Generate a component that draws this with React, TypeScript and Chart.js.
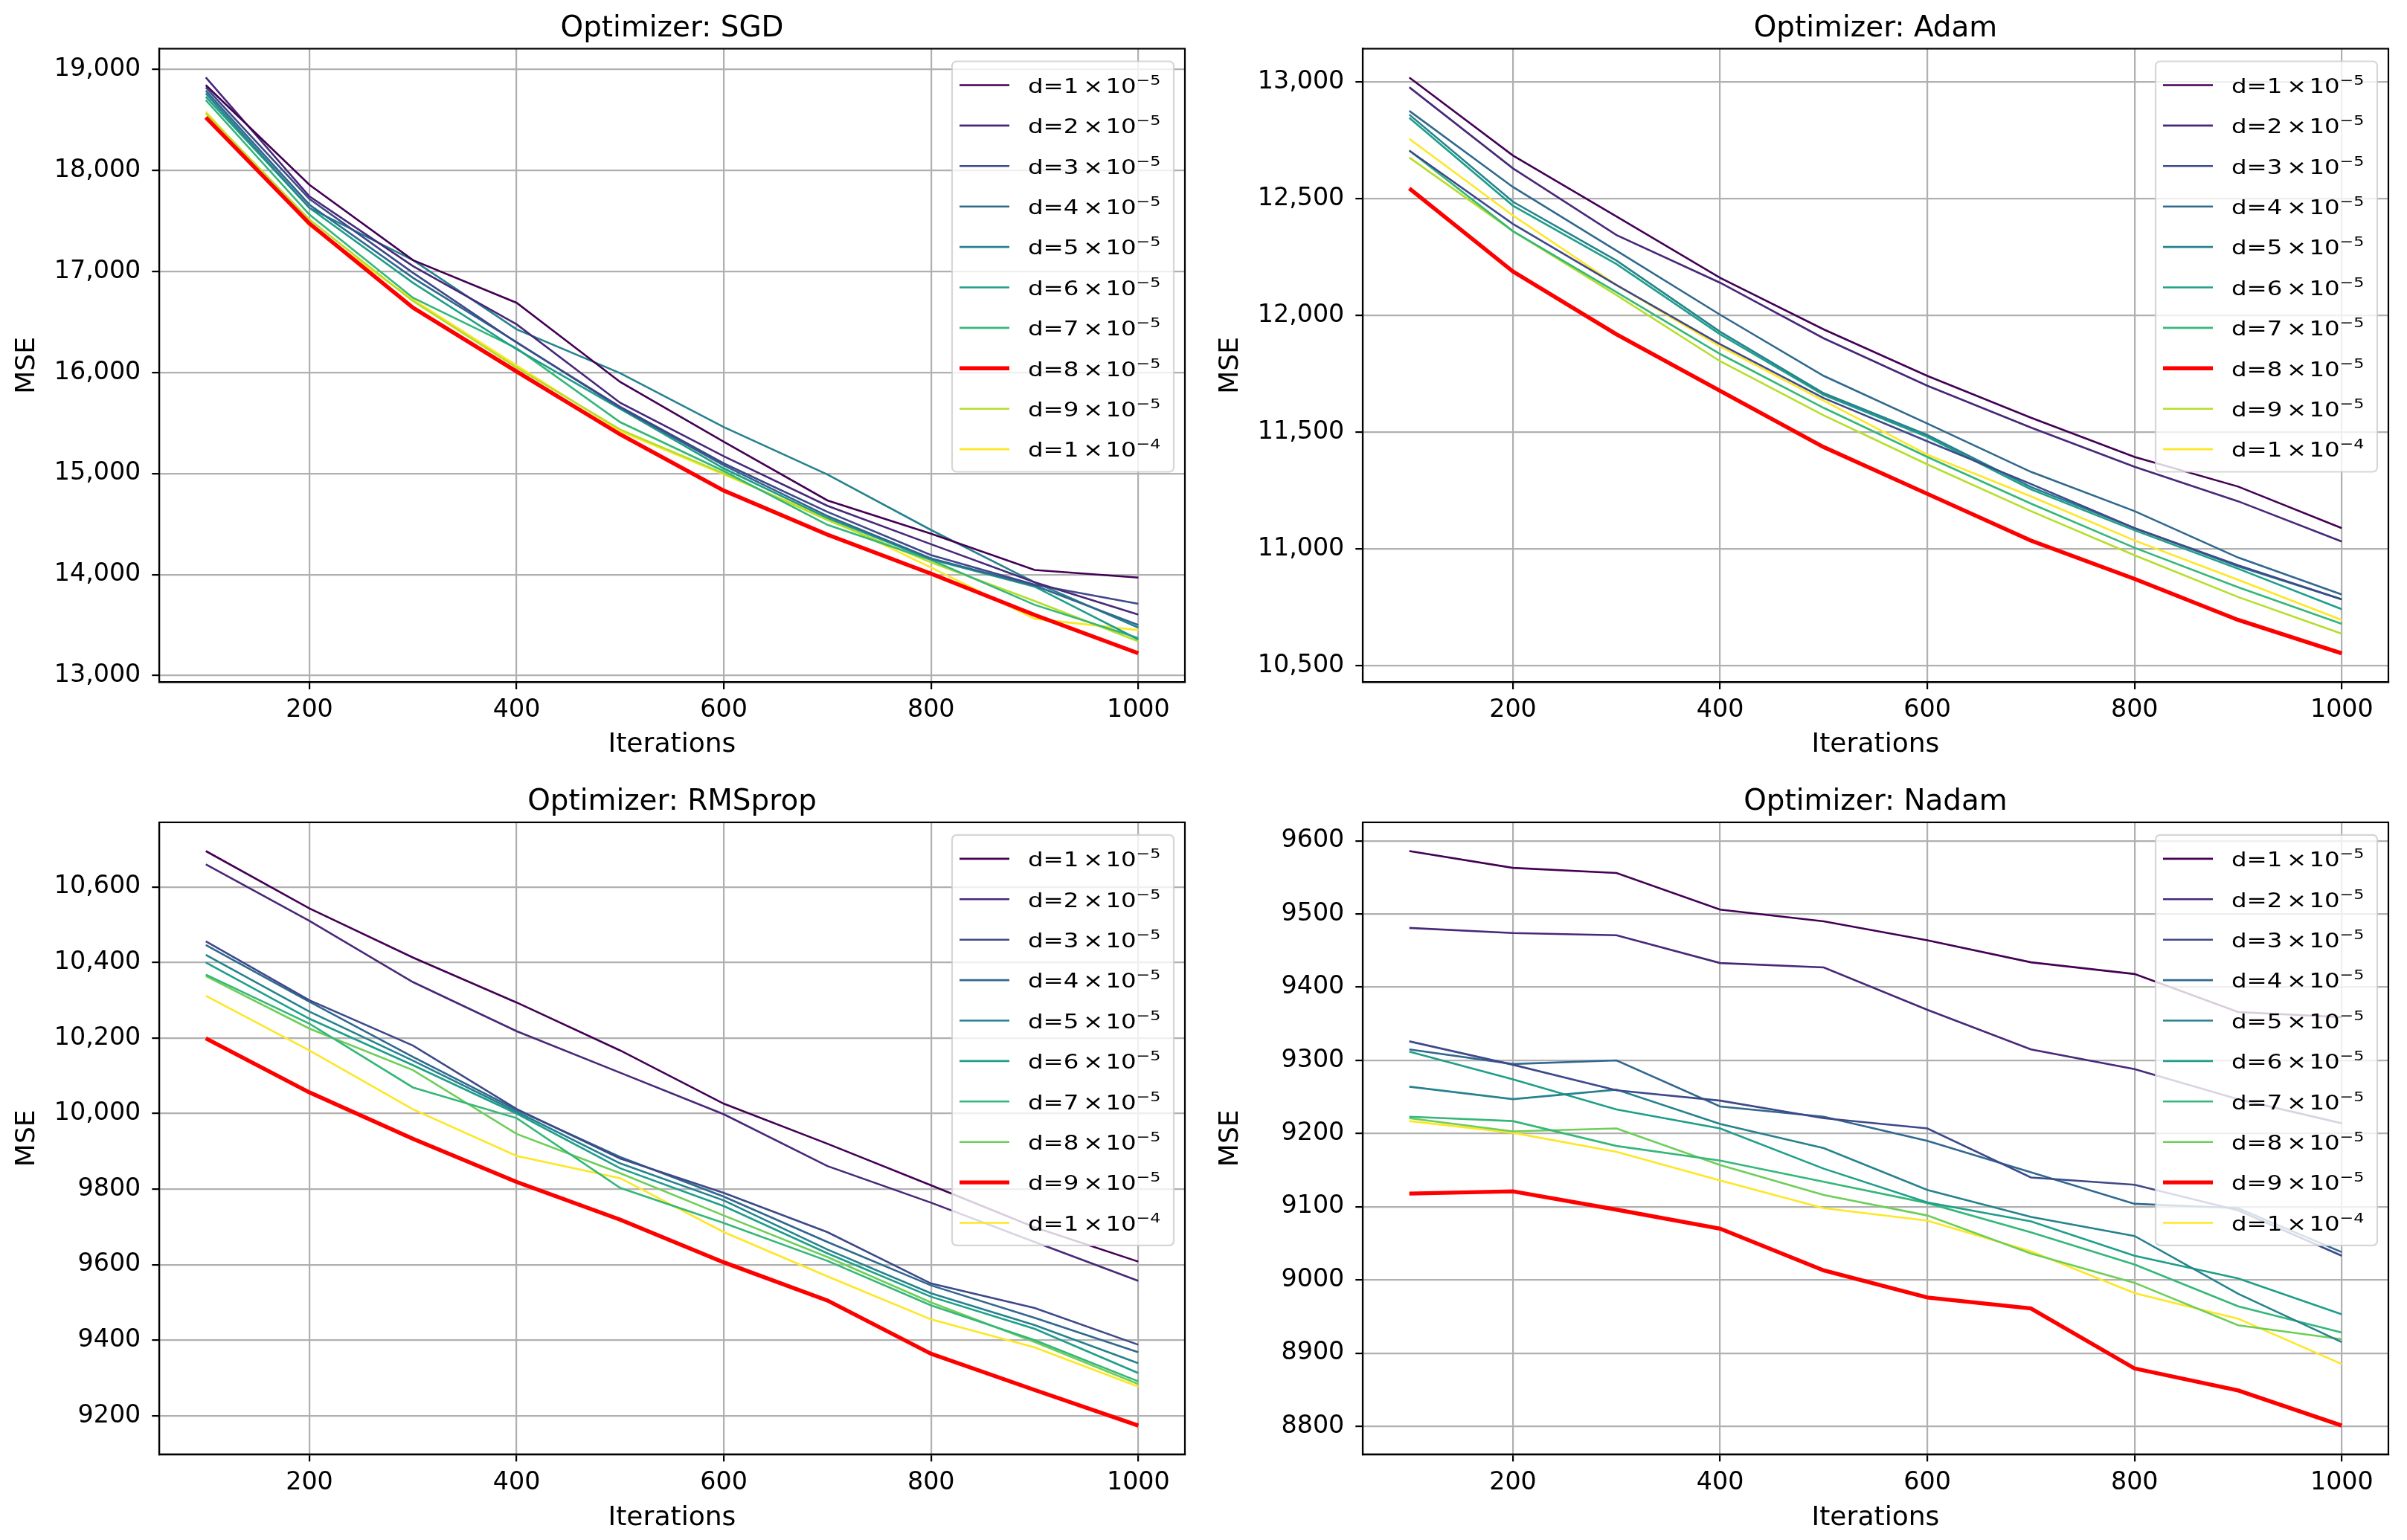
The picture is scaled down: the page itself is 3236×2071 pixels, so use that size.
import { useEffect, useRef } from 'react';
import { Chart, registerables } from 'chart.js';

Chart.register(...registerables);

const FONT = "'DejaVu Sans', 'Liberation Sans', sans-serif";

// ---------- data ----------
const ITERATIONS = [100, 200, 300, 400, 500, 600, 700, 800, 900, 1000];
const X_TICKS = [200, 400, 600, 800, 1000];
const X_TICK_LABELS = ['200', '400', '600', '800', '1000'];

const COEFS = ['1', '2', '3', '4', '5', '6', '7', '8', '9', '1'];
const EXPONENTS = ['−5', '−5', '−5', '−5', '−5', '−5', '−5', '−5', '−5', '−4'];
const SUPERSCRIPTS = ['⁻⁵', '⁻⁵', '⁻⁵', '⁻⁵', '⁻⁵', '⁻⁵', '⁻⁵', '⁻⁵', '⁻⁵', '⁻⁴'];

const VIRIDIS = [
  '#440154', '#482878', '#3e4989', '#31688e', '#26828e',
  '#1f9e89', '#35b779', '#6ece58', '#b5de2b', '#fde725',
];
const HIGHLIGHT = '#ff0000';

const SGD_SERIES = [
  [18845, 17859, 17112, 16690, 15906, 15315, 14734, 14404, 14045, 13970],
  [18921, 17744, 17053, 16477, 15700, 15170, 14680, 14300, 13923, 13604],
  [18822, 17718, 16987, 16296, 15660, 15100, 14620, 14193, 13900, 13710],
  [18790, 17662, 16938, 16300, 15650, 15080, 14580, 14160, 13890, 13500],
  [18763, 17630, 17112, 16428, 15993, 15460, 14990, 14441, 13923, 13475],
  [18730, 17630, 16888, 16230, 15640, 15050, 14560, 14150, 13880, 13357],
  [18697, 17564, 16740, 16240, 15508, 15024, 14492, 14144, 13700, 13371],
  [18526, 17475, 16641, 16010, 15387, 14831, 14395, 14008, 13600, 13220],
  [18566, 17515, 16707, 16049, 15436, 15000, 14540, 14120, 13738, 13339],
  [18582, 17456, 16722, 16070, 15420, 14990, 14560, 14070, 13562, 13450],
];
const SGD_TICKS = [13000, 14000, 15000, 16000, 17000, 18000, 19000];
const SGD_TICK_LABELS = ['13,000', '14,000', '15,000', '16,000', '17,000', '18,000', '19,000'];

const ADAM_SERIES = [
  [13019, 12685, 12424, 12161, 11940, 11741, 11562, 11394, 11267, 11089],
  [12977, 12630, 12344, 12140, 11902, 11699, 11520, 11352, 11204, 11032],
  [12706, 12392, 12130, 11877, 11646, 11461, 11278, 11089, 10930, 10784],
  [12876, 12550, 12277, 12003, 11741, 11537, 11330, 11162, 10963, 10805],
  [12860, 12487, 12235, 11930, 11667, 11488, 11265, 11089, 10925, 10784],
  [12846, 12470, 12220, 11919, 11660, 11480, 11255, 11080, 10915, 10742],
  [12706, 12361, 12100, 11835, 11604, 11394, 11194, 11005, 10836, 10679],
  [12544, 12188, 11919, 11677, 11436, 11236, 11036, 10872, 10696, 10553],
  [12676, 12361, 12087, 11804, 11572, 11362, 11162, 10973, 10794, 10637],
  [12756, 12428, 12130, 11867, 11635, 11404, 11225, 11036, 10868, 10696],
];
const ADAM_TICKS = [10500, 11000, 11500, 12000, 12500, 13000];
const ADAM_TICK_LABELS = ['10,500', '11,000', '11,500', '12,000', '12,500', '13,000'];

const RMSPROP_SERIES = [
  [10695, 10543, 10413, 10294, 10167, 10026, 9920, 9810, 9699, 9608],
  [10660, 10510, 10348, 10218, 10108, 9998, 9861, 9764, 9660, 9557],
  [10456, 10300, 10180, 10012, 9881, 9790, 9686, 9550, 9485, 9388],
  [10446, 10296, 10150, 10010, 9885, 9780, 9660, 9545, 9459, 9368],
  [10420, 10270, 10140, 10005, 9868, 9770, 9640, 9524, 9440, 9339],
  [10400, 10251, 10128, 10000, 9855, 9755, 9630, 9515, 9430, 9313],
  [10368, 10238, 10069, 9988, 9803, 9710, 9610, 9492, 9400, 9291],
  [10364, 10225, 10115, 9946, 9842, 9730, 9620, 9500, 9395, 9284],
  [10199, 10056, 9933, 9819, 9719, 9606, 9505, 9364, 9268, 9174],
  [10312, 10167, 10011, 9888, 9829, 9686, 9569, 9455, 9381, 9277],
];
const RMSPROP_TICKS = [9200, 9400, 9600, 9800, 10000, 10200, 10400, 10600];
const RMSPROP_TICK_LABELS = ['9200', '9400', '9600', '9800', '10,000', '10,200', '10,400', '10,600'];

const NADAM_SERIES = [
  [9586, 9563, 9556, 9506, 9490, 9464, 9434, 9418, 9366, 9359],
  [9481, 9474, 9471, 9433, 9427, 9369, 9315, 9288, 9247, 9214],
  [9326, 9294, 9259, 9245, 9221, 9207, 9140, 9130, 9095, 9033],
  [9315, 9295, 9300, 9237, 9223, 9190, 9147, 9104, 9098, 9038],
  [9264, 9247, 9260, 9213, 9180, 9123, 9086, 9060, 8981, 8915],
  [9312, 9274, 9233, 9207, 9152, 9106, 9080, 9033, 9002, 8953],
  [9223, 9217, 9183, 9163, 9134, 9105, 9065, 9021, 8964, 8928],
  [9221, 9203, 9207, 9157, 9116, 9088, 9036, 8996, 8938, 8919],
  [9118, 9121, 9096, 9070, 9013, 8976, 8961, 8879, 8849, 8801],
  [9217, 9201, 9175, 9136, 9098, 9081, 9039, 8982, 8947, 8885],
];
const NADAM_TICKS = [8800, 8900, 9000, 9100, 9200, 9300, 9400, 9500, 9600];
const NADAM_TICK_LABELS = ['8800', '8900', '9000', '9100', '9200', '9300', '9400', '9500', '9600'];

// ---------- layout / style ----------
const PANEL_W = 1618;
const PANEL_H = 1035;

type PanelCfg = {
  title: string;
  series: number[][];
  ticks: number[];
  tickLabels: string[];
  highlight: number;
  left: number;
  top: number;
  titlePadTop: number;
  titlePadBottom: number;
  xAxisHeight: number;
  xTitlePadBottom: number;
};

const PANELS: PanelCfg[] = [
  { title: 'Optimizer: SGD', series: SGD_SERIES, ticks: SGD_TICKS, tickLabels: SGD_TICK_LABELS, highlight: 7,
    left: 0, top: 0, titlePadTop: 15.1, titlePadBottom: 3.7, xAxisHeight: 117.7, xTitlePadBottom: 11.3 },
  { title: 'Optimizer: Adam', series: ADAM_SERIES, ticks: ADAM_TICKS, tickLabels: ADAM_TICK_LABELS, highlight: 7,
    left: PANEL_W, top: 0, titlePadTop: 15.1, titlePadBottom: 3.7, xAxisHeight: 117.7, xTitlePadBottom: 11.3 },
  { title: 'Optimizer: RMSprop', series: RMSPROP_SERIES, ticks: RMSPROP_TICKS, tickLabels: RMSPROP_TICK_LABELS, highlight: 8,
    left: 0, top: PANEL_H, titlePadTop: 20.6, titlePadBottom: 3.6, xAxisHeight: 114.3, xTitlePadBottom: 6.9 },
  { title: 'Optimizer: Nadam', series: NADAM_SERIES, ticks: NADAM_TICKS, tickLabels: NADAM_TICK_LABELS, highlight: 8,
    left: PANEL_W, top: PANEL_H, titlePadTop: 20.6, titlePadBottom: 3.6, xAxisHeight: 114.3, xTitlePadBottom: 6.9 },
];

const GRID_COLOR = '#b0b0b0';
const LINE_W = 2.2;

function stretchedText(ctx: CanvasRenderingContext2D, text: string, x: number, y: number, sx: number) {
  ctx.save();
  ctx.translate(x, y);
  ctx.scale(sx, 1);
  ctx.fillText(text, 0, 0);
  ctx.restore();
}

const framePlugin = {
  id: 'mplFrameLegend',
  afterDatasetsDraw(chart: any) {
    const { ctx, chartArea: ca } = chart;
    ctx.save();
    ctx.strokeStyle = '#000';
    ctx.lineWidth = LINE_W;
    ctx.strokeRect(ca.left, ca.top, ca.right - ca.left, ca.bottom - ca.top);

    const W = 298;
    const H = 552;
    const x0 = ca.right - 15 - W;
    const y0 = ca.top + 17;
    const r = 6;
    ctx.beginPath();
    ctx.moveTo(x0 + r, y0);
    ctx.lineTo(x0 + W - r, y0);
    ctx.arcTo(x0 + W, y0, x0 + W, y0 + r, r);
    ctx.lineTo(x0 + W, y0 + H - r);
    ctx.arcTo(x0 + W, y0 + H, x0 + W - r, y0 + H, r);
    ctx.lineTo(x0 + r, y0 + H);
    ctx.arcTo(x0, y0 + H, x0, y0 + H - r, r);
    ctx.lineTo(x0, y0 + r);
    ctx.arcTo(x0, y0, x0 + r, y0, r);
    ctx.closePath();
    ctx.fillStyle = 'rgba(255,255,255,0.8)';
    ctx.fill();
    ctx.strokeStyle = 'rgba(204,204,204,0.8)';
    ctx.lineWidth = 2.2;
    ctx.stroke();

    chart.data.datasets.forEach((ds: any, i: number) => {
      const y = y0 + 32 + i * 54.4;
      ctx.beginPath();
      ctx.strokeStyle = ds.borderColor;
      ctx.lineWidth = ds.borderWidth;
      ctx.moveTo(x0 + 10, y);
      ctx.lineTo(x0 + 77, y);
      ctx.stroke();

      const tx = x0 + 103;
      const base = y + 10.3;
      ctx.fillStyle = '#000';
      ctx.textBaseline = 'alphabetic';
      ctx.textAlign = 'left';
      ctx.font = `27px ${FONT}`;
      stretchedText(ctx, `d=${COEFS[i]}`, tx - 1, base, 1.2);
      stretchedText(ctx, '×', tx + 73, base, 1.2);
      stretchedText(ctx, '10', tx + 103.4, base, 1.2);
      ctx.font = `18.5px ${FONT}`;
      stretchedText(ctx, EXPONENTS[i], tx + 144.6, base - 11, 1.2);
    });
    ctx.restore();
  },
};

function Panel({ cfg }: { cfg: PanelCfg }) {
  const ref = useRef<HTMLCanvasElement>(null);

  useEffect(() => {
    const all = cfg.series.flat();
    const lo = Math.min(...all);
    const hi = Math.max(...all);
    const yPad = (hi - lo) * 0.05;
    const xLo = Math.min(...ITERATIONS);
    const xHi = Math.max(...ITERATIONS);
    const xPad = (xHi - xLo) * 0.05;

    const tickFont = { family: FONT, size: 33.3 };
    const labelFont = { family: FONT, size: 36.1, lineHeight: 1.2 };

    const chart = new Chart(ref.current as HTMLCanvasElement, {
      type: 'line',
      data: {
        datasets: cfg.series.map((s, i) => ({
          label: `d=${COEFS[i]}×10${SUPERSCRIPTS[i]}`,
          data: s.map((v, j) => ({ x: ITERATIONS[j], y: v })),
          borderColor: i === cfg.highlight ? HIGHLIGHT : VIRIDIS[i],
          backgroundColor: i === cfg.highlight ? HIGHLIGHT : VIRIDIS[i],
          borderWidth: i === cfg.highlight ? 5.4 : 2.6,
          pointRadius: 0,
          pointHoverRadius: 0,
          tension: 0,
          fill: false,
        })),
      },
      options: {
        animation: false,
        responsive: false,
        devicePixelRatio: 1,
        events: [],
        layout: { padding: { left: 0, right: 25, top: 0, bottom: 0 } },
        plugins: {
          legend: { display: false },
          tooltip: { enabled: false },
          title: {
            display: true,
            text: cfg.title,
            fullSize: false,
            color: '#000',
            font: { family: FONT, size: 38.9, weight: 'normal', lineHeight: 1.2 },
            padding: { top: cfg.titlePadTop, bottom: cfg.titlePadBottom },
          },
        },
        scales: {
          x: {
            type: 'linear',
            min: xLo - xPad,
            max: xHi + xPad,
            afterBuildTicks: (axis: any) => {
              axis.ticks = X_TICKS.map((v) => ({ value: v }));
            },
            afterFit: (scale: any) => {
              scale.height = cfg.xAxisHeight;
            },
            ticks: {
              autoSkip: false,
              maxRotation: 0,
              minRotation: 0,
              padding: 8.7,
              color: '#000',
              font: tickFont,
              callback: (v: any) => {
                const k = X_TICKS.indexOf(Number(v));
                return k >= 0 ? X_TICK_LABELS[k] : '';
              },
            },
            grid: {
              color: GRID_COLOR,
              lineWidth: LINE_W,
              drawTicks: true,
              tickLength: 9.7,
              tickColor: '#000',
              tickWidth: LINE_W,
            },
            border: { display: true, color: '#000', width: LINE_W },
            title: {
              display: true,
              text: 'Iterations',
              color: '#000',
              font: labelFont,
              padding: { top: 0, bottom: cfg.xTitlePadBottom },
            },
          },
          y: {
            type: 'linear',
            min: lo - yPad,
            max: hi + yPad,
            afterBuildTicks: (axis: any) => {
              axis.ticks = cfg.ticks.map((v) => ({ value: v }));
            },
            afterFit: (scale: any) => {
              scale.width = 214;
            },
            ticks: {
              autoSkip: false,
              padding: 15,
              color: '#000',
              font: tickFont,
              callback: (v: any) => {
                const k = cfg.ticks.indexOf(Number(v));
                return k >= 0 ? cfg.tickLabels[k] : '';
              },
            },
            grid: {
              color: GRID_COLOR,
              lineWidth: LINE_W,
              drawTicks: true,
              tickLength: 9.7,
              tickColor: '#000',
              tickWidth: LINE_W,
            },
            border: { display: true, color: '#000', width: LINE_W },
            title: {
              display: true,
              text: 'MSE',
              color: '#000',
              font: labelFont,
              padding: { top: 15.3, bottom: 0 },
            },
          },
        },
      },
      plugins: [framePlugin],
    } as any);

    return () => chart.destroy();
  }, [cfg]);

  return (
    <canvas
      ref={ref}
      width={PANEL_W}
      height={PANEL_H}
      style={{ position: 'absolute', left: cfg.left, top: cfg.top, width: PANEL_W, height: PANEL_H }}
    />
  );
}

export default function App() {
  return (
    <div
      style={{
        position: 'fixed',
        left: 0,
        top: 0,
        width: 3236,
        height: 2071,
        background: '#ffffff',
        overflow: 'hidden',
      }}
    >
      {PANELS.map((p) => (
        <Panel key={p.title} cfg={p} />
      ))}
    </div>
  );
}
